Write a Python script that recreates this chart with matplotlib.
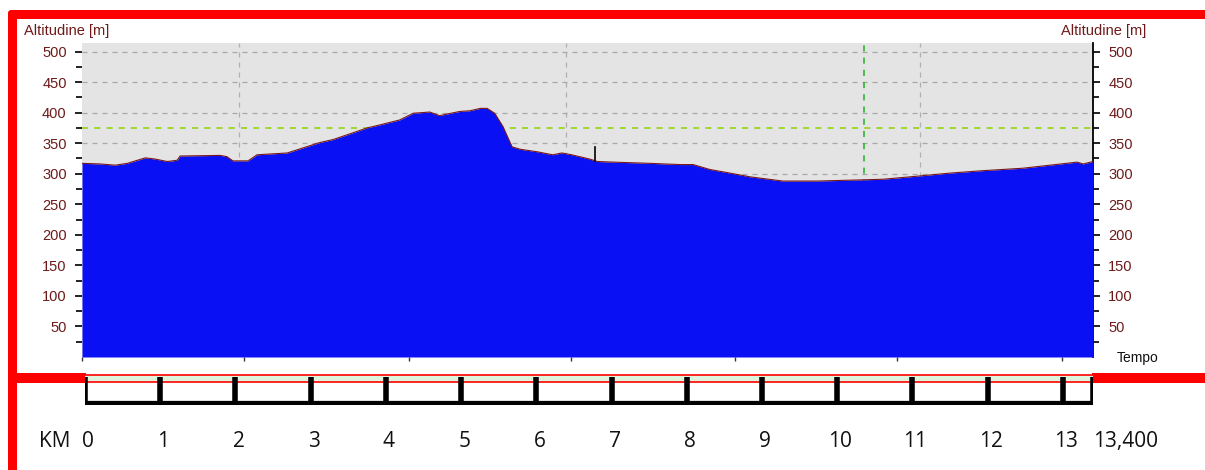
import numpy as np
import matplotlib
matplotlib.use('Agg')
import matplotlib.pyplot as plt
from matplotlib.patches import Rectangle, FancyBboxPatch

# elevation profile (distance in km, altitude in m)
dist_km = [0.00, 0.24, 0.44, 0.60, 0.84, 0.97, 1.13, 1.26, 1.30, 1.83, 1.92, 2.00,
           2.20, 2.32, 2.72, 3.15, 3.33, 3.78, 3.95, 4.21, 4.39, 4.61, 4.74, 4.81,
           5.01, 5.14, 5.28, 5.37, 5.47, 5.58, 5.70, 5.81, 6.03, 6.24, 6.36, 6.49,
           6.73, 6.83, 7.04, 7.53, 7.93, 8.10, 8.32, 8.59, 8.85, 9.29, 9.74, 10.35,
           10.62, 11.07, 11.50, 11.94, 12.47, 12.83, 13.19, 13.27, 13.40]
altitude = [317, 316, 314, 317, 326, 324, 320, 322, 329, 330, 328, 321,
            321, 331, 334, 351, 356, 375, 380, 388, 399, 401, 395, 397,
            402, 403, 407, 407, 399, 377, 344, 340, 336, 331, 334, 331,
            324, 320, 319, 317, 315, 315, 307, 301, 295, 288, 288, 290,
            291, 296, 301, 305, 309, 314, 319, 316, 320]

alt_ticks = [50, 100, 150, 200, 250, 300, 350, 400, 450, 500]
alt_minor = [25, 75, 125, 175, 225, 275, 325, 375, 425, 475]
grid_alt = [300, 350, 400, 450, 500]
grid_km = [2.08, 6.41, 11.11]
tempo_ticks = [0, 2.15, 4.33, 6.48, 8.65, 10.80, 12.99]
marker_alt = 375
marker_km = 10.36
spike_km = 6.80

km_marks = list(range(14)) + [13.4]
km_labels = [str(k) for k in range(14)] + ['13,400']
total_km = 13.4

W, H = 1205, 470
fig = plt.figure(figsize=(W / 100, H / 100), dpi=100)
fig.patch.set_facecolor('white')

def box(x0, y0, x1, y1):
    # pixel box -> figure fraction
    return [x0 / W, 1 - y1 / H, (x1 - x0) / W, (y1 - y0) / H]

# red frame drawn in an overlay in pixel space
ov = fig.add_axes([0, 0, 1, 1], zorder=0)
ov.set_xlim(0, W)
ov.set_ylim(H, 0)
ov.axis('off')
red = '#ff0000'
ov.add_patch(FancyBboxPatch((8, 10), 1300, 9, boxstyle='round,pad=0,rounding_size=4',
                            fc=red, ec='none'))
ov.add_patch(FancyBboxPatch((8, 10), 9, 480, boxstyle='round,pad=0,rounding_size=4',
                            fc=red, ec='none'))
ov.add_patch(Rectangle((8, 373), 78, 10, fc=red, ec='none'))
ov.add_patch(Rectangle((1092, 373), 120, 10, fc=red, ec='none'))
ov.add_patch(Rectangle((85, 375), 1008, 7, fc='#dcf5dc', ec='none'))
ov.plot([85, 1093], [375, 375], color=red, lw=1.2)
ov.plot([85, 1093], [382, 382], color=red, lw=1.2)

# altitude chart
ax = fig.add_axes(box(82, 43, 1093, 357), zorder=2)
ax.set_facecolor('#e4e4e4')
ax.set_xlim(0, total_km)
ax.set_ylim(0, 514)

for a in grid_alt:
    ax.axhline(a, color='#a8a8a8', lw=0.9, ls=(0, (4, 4)), zorder=1)
for k in grid_km:
    ax.axvline(k, color='#b0b0b0', lw=0.9, ls=(0, (4, 4)), zorder=1)
ax.axhline(marker_alt, color='#8cd400', lw=1.1, ls=(0, (4, 4)), zorder=1)
ax.axvline(marker_km, color='#22b022', lw=1.1, ls=(0, (4, 4)), zorder=1)

ax.fill_between(dist_km, altitude, 0, color='#0a10f4', lw=0, zorder=3)
ax.plot(dist_km, altitude, color='#7a1818', lw=0.8, zorder=4)
spike_base = np.interp(spike_km, dist_km, altitude)
ax.plot([spike_km, spike_km], [spike_base, spike_base + 22],
        color='black', lw=1.2, zorder=5)

tick_col = '#6e1a1a'
ax.set_yticks(alt_ticks)
ax.set_yticks(alt_minor, minor=True)
ax.set_yticklabels([str(a) for a in alt_ticks])
ax.tick_params(axis='y', which='both', left=True, right=True, labelleft=True,
               labelright=True, direction='out', color='#222222', width=1.4,
               labelcolor=tick_col, labelsize=10.5, pad=6)
ax.tick_params(axis='y', which='major', length=5)
ax.tick_params(axis='y', which='minor', length=4)
for lab in ax.get_yticklabels():
    lab.set_family('Liberation Sans')

ax.set_xticks(tempo_ticks)
ax.set_xticklabels([])
ax.tick_params(axis='x', direction='out', length=3, width=1, color='#333333')

for s in ['top', 'left', 'bottom']:
    ax.spines[s].set_visible(False)
ax.spines['right'].set_color('black')
ax.spines['right'].set_linewidth(1.3)

ax.text(-0.057, 1.038, 'Altitudine [m]', transform=ax.transAxes, ha='left', va='center',
        color=tick_col, fontsize=10.5, family='Liberation Sans')
ax.text(0.968, 1.038, 'Altitudine [m]', transform=ax.transAxes, ha='left', va='center',
        color=tick_col, fontsize=10.5, family='Liberation Sans')
ax.text(1.044, -0.003, 'Tempo', transform=ax.transAxes, ha='center', va='center',
        color='#111111', fontsize=10, family='Liberation Sans')

# km ruler below the chart
rx = fig.add_axes(box(85, 377, 1093, 405), zorder=3)
rx.set_xlim(0, total_km)
rx.set_ylim(0, 1)
rx.axis('off')
rx.vlines(km_marks, 0.05, 1.0, color='black', lw=4)
rx.hlines(0.05, 0, total_km, color='black', lw=4.5)
for k, lab in zip(km_marks, km_labels):
    if lab == '13,400':
        rx.text(k, -1.3, lab, ha='left', va='center', fontsize=15,
                family='Open Sans', color='#111111')
    else:
        rx.text(k + 0.04, -1.3, lab, ha='center', va='center', fontsize=15,
                family='Open Sans', color='#111111')
rx.text(-0.4, -1.3, 'KM', ha='center', va='center', fontsize=15,
        family='Open Sans', color='#111111')

fig.savefig('out.png', dpi=100)
